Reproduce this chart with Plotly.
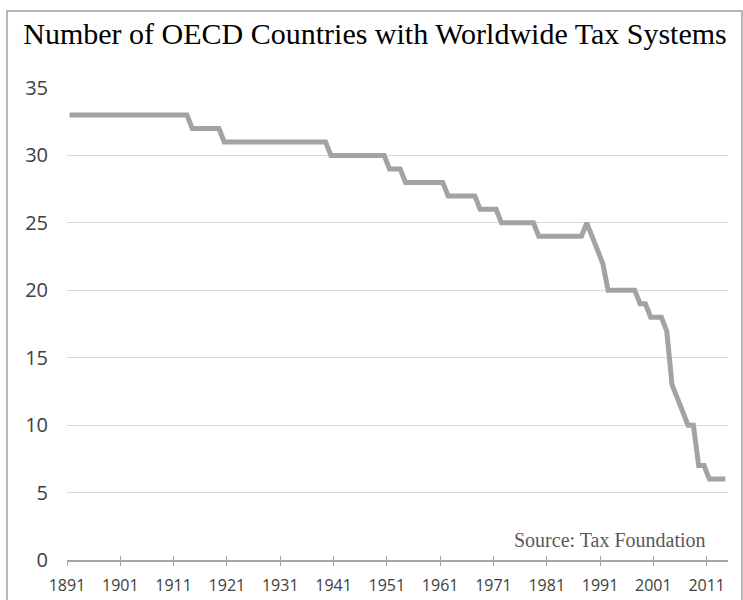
import plotly.graph_objects as go

# Data
years = list(range(1891, 2015))
countries = [
    33, 33, 33, 33, 33, 33, 33, 33, 33, 33,   # 1891-1900
    33, 33, 33, 33, 33, 33, 33, 33, 33, 33,   # 1901-1910
    33, 33, 33, 32, 32, 32, 32, 32, 32, 31,   # 1911-1920
    31, 31, 31, 31, 31, 31, 31, 31, 31, 31,   # 1921-1930
    31, 31, 31, 31, 31, 31, 31, 31, 31, 30,   # 1931-1940
    30, 30, 30, 30, 30, 30, 30, 30, 30, 30,   # 1941-1950
    29, 29, 29, 28, 28, 28, 28, 28, 28, 28,   # 1951-1960
    28, 27, 27, 27, 27, 27, 27, 26, 26, 26,   # 1961-1970
    26, 25, 25, 25, 25, 25, 25, 25, 24, 24,   # 1971-1980
    24, 24, 24, 24, 24, 24, 24, 25, 24, 23,   # 1981-1990
    22, 20, 20, 20, 20, 20, 20, 19, 19, 18,   # 1991-2000
    18, 18, 17, 13, 12, 11, 10, 10, 7, 7,     # 2001-2010
    6, 6, 6, 6,                               # 2011-2014
]
x_tick_labels = ["1891", "1901", "1911", "1921", "1931", "1941", "1951",
                 "1961", "1971", "1981", "1991", "2001", "2011"]
y_ticks = [0, 5, 10, 15, 20, 25, 30, 35]

title_text = "Number of OECD Countries with Worldwide Tax Systems"
source_text = "Source: Tax Foundation"

W, H = 743, 600
L, R, T, B = 67, 15, 88, 40
pw, ph = W - L - R, H - T - B

tick_pos = [int(t) - 0.5 for t in x_tick_labels]

fig = go.Figure()
fig.add_trace(go.Scatter(
    x=years, y=countries, mode="lines",
    line=dict(color="#a3a3a3", width=5),
    hoverinfo="skip", showlegend=False,
))
# invisible trace on an overlaid axis to draw the upper half of crossing ticks
fig.add_trace(go.Scatter(
    x=years, y=countries, mode="lines", xaxis="x2",
    line=dict(color="rgba(0,0,0,0)", width=0),
    hoverinfo="skip", showlegend=False,
))

axis_grey = "#a6a6a6"
fig.update_layout(
    width=W, height=H,
    margin=dict(l=L, r=R, t=T, b=B, autoexpand=False),
    paper_bgcolor="white", plot_bgcolor="white",
    title=dict(
        text=title_text, x=375 / W, xanchor="center",
        y=1 - 33 / H, yanchor="middle",
        font=dict(family="Liberation Serif", size=30, color="#000000"),
    ),
    xaxis=dict(
        range=[1890.5, 2014.5], tickmode="array",
        tickvals=tick_pos, ticktext=x_tick_labels,
        showgrid=False, zeroline=False,
        showline=True, linecolor=axis_grey, linewidth=1.5,
        ticks="outside", ticklen=4, tickwidth=1.2, tickcolor=axis_grey,
        ticklabelstandoff=6,
        tickfont=dict(family="Open Sans", size=16, color="#404040"),
    ),
    xaxis2=dict(
        range=[1890.5, 2014.5], overlaying="x", anchor="y",
        tickmode="array", tickvals=tick_pos, ticktext=["" for _ in tick_pos],
        showgrid=False, zeroline=False, showline=False,
        ticks="inside", ticklen=4, tickwidth=1.2, tickcolor=axis_grey,
        side="bottom", showticklabels=False,
    ),
    yaxis=dict(
        range=[0, 35], tickmode="array", tickvals=y_ticks,
        showgrid=True, gridcolor="#d9d9d9", gridwidth=1.2,
        zeroline=False, showline=False, ticks="",
        ticklabelstandoff=18,
        tickfont=dict(family="Open Sans", size=20, color="#404040"),
    ),
    annotations=[dict(
        text=source_text, xref="paper", yref="paper",
        x=(708 - L) / pw, y=(560 - 540) / ph,
        xanchor="right", yanchor="middle", showarrow=False,
        font=dict(family="Liberation Serif", size=20, color="#595959"),
    )],
    shapes=[dict(
        type="rect", xref="paper", yref="paper",
        x0=(7 - L) / pw, x1=(742 - L) / pw,
        y0=(560 - 610) / ph, y1=(560 - 11) / ph,
        line=dict(color="#a0a0a0", width=1.5), fillcolor="rgba(0,0,0,0)",
        layer="below",
    )],
)

fig.write_html("out.html")
